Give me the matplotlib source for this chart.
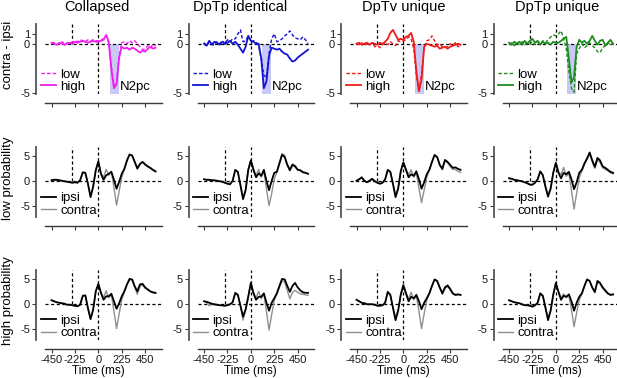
import numpy as np
import matplotlib
matplotlib.use('Agg')
import matplotlib.pyplot as plt
from matplotlib.lines import Line2D

plt.rcParams['font.family'] = ['Liberation Sans', 'DejaVu Sans']
plt.rcParams['axes.unicode_minus'] = False

# ---------------- data ----------------
time_ms = np.arange(-450, 551, 25)   # sampling grid, 41 points

titles = ['Collapsed', 'DpTp identical', 'DpTv unique', 'DpTp unique']
diff_colors = ['#f01ef0', '#1414d2', '#ee1c1c', '#1f8c1f']
row_labels = ['contra - ipsi', 'low probability', 'high probability']
x_ticks = [-450, -225, 0, 225, 450]
x_ticklabels = ['-450', '-225', '0', '225', '450']
diff_yticks = [-5, 0, 1]
erp_yticks = [-5, 0, 5]
n2pc_window = [110, 195]

# top row: contra - ipsi difference waves
collapsed_low = [0.0, 0.1, -0.1, 0.0, 0.2, 0.0, 0.1, 0.0, 0.2, 0.3, 0.2, 0.4, 0.3, 0.2, 0.4, 0.3, 0.4, 0.3, 0.3, 0.4, 0.5,
                 0.8, 0.1, -2.3, -4.2, -3.9, -1.2, 0.1, 0.2, 0.0, 0.3, 0.1, 0.3, 0.0, -0.3, -0.6, -0.5, -0.2, -0.4, -0.1, -0.2]
collapsed_high = [0.1, 0.0, -0.1, 0.1, 0.0, -0.1, 0.0, 0.1, 0.0, 0.2, 0.1, 0.2, 0.3, 0.2, 0.1, 0.2, 0.3, 0.2, 0.2, 0.3, 0.4,
                  0.9, 0.2, -2.6, -4.5, -4.1, -1.4, -0.3, -0.5, -0.4, -0.6, -0.4, -0.5, -0.7, -0.9, -0.7, -0.8, -0.5, -0.3, -0.5, -0.4]
dptp_ident_low = [0.1, -0.2, 0.2, 0.0, -0.2, 0.2, 0.0, 0.3, 0.0, 0.4, 0.2, 0.5, 0.5, 1.0, 1.4, 0.2, 0.3, 0.8, 0.2, 0.3, 0.2,
                  -0.2, -1.5, -3.2, -3.4, -1.0, 0.5, 1.0, 0.2, 0.3, 0.5, 0.8, 1.0, 1.3, 0.9, 0.6, 0.5, 0.4, 0.7, 0.4, 0.0]
dptp_ident_high = [0.0, -0.2, 0.3, -0.1, 0.2, 0.1, -0.1, 0.2, 0.0, 0.1, 0.3, 0.0, 0.2, -0.1, -0.5, -0.9, -0.3, 0.8, 0.3, 0.2, 0.0,
                   0.0, -1.5, -4.5, -3.8, -1.2, -0.4, -0.5, -0.6, -0.5, -0.8, -1.0, -1.1, -1.5, -1.8, -1.7, -1.4, -1.2, -1.0, -0.8, -0.6]
dptv_uniq_low = [0.0, -0.1, 0.1, -0.2, 0.0, -0.1, 0.1, -0.3, -0.2, -0.4, -0.1, 0.1, -0.1, 0.2, 0.0, -0.2, 0.3, 0.2, 0.3, 0.4, 0.7,
                 0.5, -0.5, -3.2, -4.9, -3.0, -0.5, 0.3, 0.4, 0.8, 0.3, -0.1, 0.0, -0.3, -0.4, -0.3, 0.0, -0.2, 0.1, -0.3, -0.2]
dptv_uniq_high = [0.0, 0.1, -0.1, 0.0, 0.1, -0.1, 0.1, 0.0, -0.1, 0.1, 0.0, 0.2, 0.5, 1.1, 1.4, 0.9, 0.4, 0.5, 0.4, 0.7, 0.8,
                  1.1, 0.2, -2.8, -4.8, -3.6, -0.3, 0.0, -0.1, -0.2, -0.3, -0.2, -0.5, -0.4, -0.3, -0.5, -0.3, -0.2, -0.1, 0.0, -0.1]
dptp_uniq_low = [-0.1, 0.1, -0.2, 0.1, -0.1, 0.2, -0.1, 0.1, 0.0, 0.2, -0.1, 0.2, 0.0, 0.3, 0.1, 0.4, 0.7, 0.9, 0.8, 1.0, 1.3,
                 0.5, -0.5, -2.8, -4.5, -4.9, -1.0, -0.5, 0.0, -0.4, -0.2, 0.1, -0.2, -0.4, -0.8, -0.9, -0.4, -0.2, 0.1, -0.1, 0.0]
dptp_uniq_high = [0.1, -0.1, 0.2, 0.0, 0.2, -0.1, 0.3, 0.0, 0.3, 0.5, 0.1, 0.3, -0.1, 0.2, 0.0, 0.1, -0.1, 0.2, 0.1, 0.1, 0.3,
                  0.5, 0.7, -1.5, -3.9, -3.4, -0.3, 0.4, 0.1, 0.3, 0.0, 0.3, 0.8, 0.3, -0.1, 0.3, 0.4, -0.2, 0.1, 0.4, 0.0]

# middle row: low probability, ipsi / contra
collapsed_lowp_ipsi = [0.2, 0.3, 0.3, 0.2, 0.1, 0.0, -0.1, -0.2, -0.3, -0.2, -0.3, 0.2, 1.8, 1.7, -0.5, -3.2, -1.1, 2.2, 4.0, 1.5, 0.3,
                       1.2, 1.5, 1.9, 0.3, -1.5, -0.1, 1.5, 2.5, 4.2, 5.4, 5.2, 3.9, 2.6, 3.5, 3.9, 3.4, 3.0, 2.7, 2.3, 2.0]
collapsed_lowp_contra = [0.2, 0.3, 0.2, 0.2, 0.1, 0.0, -0.1, -0.2, -0.3, -0.2, -0.3, 0.2, 1.7, 1.6, -0.5, -3.0, -1.0, 2.2, 4.0, 1.6, 0.8,
                         2.4, 1.2, 2.0, -1.3, -4.8, -2.0, 0.8, 2.4, 4.0, 5.3, 5.1, 3.8, 2.4, 3.4, 3.8, 3.3, 2.9, 2.6, 2.2, 1.9]
dptp_ident_lowp_ipsi = [0.4, 0.3, 0.3, 0.2, 0.2, 0.1, 0.0, -0.1, -0.3, -0.5, -0.6, 0.1, 2.3, 1.9, -0.8, -3.6, -1.8, 2.3, 4.2, 2.3, 0.8,
                        1.6, 1.1, 2.3, 0.1, -1.8, 0.1, 1.7, 1.9, 3.6, 5.3, 4.9, 3.3, 2.2, 3.3, 3.0, 2.3, 2.2, 1.8, 1.7, 1.5]
dptp_ident_lowp_contra = [0.4, 0.3, 0.2, 0.2, 0.1, 0.1, 0.0, -0.1, -0.3, -0.4, -0.5, 0.1, 2.2, 1.8, -0.7, -3.3, -1.6, 2.3, 4.3, 2.5, 1.2,
                          2.4, 0.8, 2.0, -1.5, -4.9, -2.5, 0.5, 1.8, 3.8, 5.6, 5.2, 3.5, 2.5, 3.5, 3.2, 2.4, 2.3, 1.9, 1.7, 1.5]
dptv_uniq_lowp_ipsi = [0.1, 0.4, 0.8, 0.1, -0.2, 0.1, 0.5, 0.0, -0.3, -0.5, -0.3, 0.4, 2.3, 1.9, -0.5, -3.2, -1.5, 2.0, 3.8, 2.3, 0.8,
                       1.4, 1.1, 2.0, 0.4, -1.5, -0.2, 1.4, 2.3, 3.9, 5.3, 4.9, 3.3, 2.5, 4.3, 3.9, 3.3, 2.7, 2.8, 2.5, 2.3]
dptv_uniq_lowp_contra = [0.1, 0.4, 0.7, 0.1, -0.2, 0.1, 0.4, 0.0, -0.3, -0.5, -0.3, 0.4, 2.2, 1.8, -0.4, -2.9, -1.3, 2.0, 3.8, 2.5, 1.3,
                         2.3, 0.8, 1.6, -1.4, -4.3, -1.8, 0.8, 2.3, 3.8, 5.2, 4.8, 3.2, 2.3, 4.1, 3.7, 3.0, 2.4, 2.4, 2.0, 1.8]
dptp_uniq_lowp_ipsi = [0.6, 0.5, 0.3, 0.2, 0.1, 0.0, -0.2, -0.4, -0.7, -0.7, -0.3, 0.4, 2.0, 1.2, -1.1, -3.1, -1.5, 1.7, 3.7, 1.7, 0.6,
                       1.7, 1.4, 1.9, 0.4, -1.6, -0.2, 1.7, 2.3, 3.6, 4.6, 5.8, 4.2, 2.9, 4.7, 4.2, 3.0, 2.7, 2.3, 1.9, 1.7]
dptp_uniq_lowp_contra = [0.6, 0.5, 0.3, 0.2, 0.1, 0.0, -0.2, -0.4, -0.6, -0.6, -0.3, 0.4, 1.9, 1.2, -1.0, -2.8, -1.3, 1.8, 3.8, 2.0, 1.3,
                         2.8, 1.0, 1.6, -1.8, -5.6, -2.4, 0.8, 2.0, 3.4, 4.4, 5.5, 3.9, 2.6, 4.3, 3.8, 2.7, 2.4, 2.1, 1.7, 1.5]

# bottom row: high probability, ipsi / contra
collapsed_highp_ipsi = [0.7, 0.5, 0.3, 0.2, 0.1, 0.0, -0.2, -0.2, -0.3, -0.4, -0.5, -0.2, 1.6, 1.7, -0.9, -3.1, -1.2, 2.5, 4.0, 2.2, 0.8,
                        1.5, 1.5, 2.0, 0.5, -1.0, 0.1, 1.5, 2.5, 3.9, 5.0, 4.9, 3.5, 2.5, 3.9, 4.0, 3.3, 2.9, 2.5, 2.3, 2.2]
collapsed_highp_contra = [0.7, 0.5, 0.3, 0.2, 0.1, 0.0, -0.2, -0.2, -0.3, -0.4, -0.5, -0.2, 1.5, 1.6, -0.9, -3.0, -1.1, 2.4, 4.0, 2.3, 1.2,
                          2.6, 1.2, 1.9, -1.5, -5.0, -2.0, 0.8, 2.4, 3.8, 4.9, 4.7, 3.3, 1.9, 3.5, 3.8, 3.1, 2.8, 2.4, 2.2, 2.1]
dptp_ident_highp_ipsi = [0.5, 0.4, 0.2, 0.0, -0.1, -0.2, -0.3, -0.3, -0.4, -0.3, -0.1, 0.3, 2.2, 1.8, -0.4, -2.6, -1.1, 1.4, 4.2, 2.1, 0.8,
                         1.4, 1.4, 2.1, 0.2, -1.4, 0.2, 1.1, 2.1, 3.6, 5.0, 4.9, 3.6, 2.4, 3.6, 4.2, 3.3, 2.7, 2.3, 2.2, 2.2]
dptp_ident_highp_contra = [0.5, 0.2, -0.4, -0.1, -0.2, -0.3, -0.3, -0.4, -0.4, -0.3, -0.1, 0.3, 2.1, 1.7, -0.4, -3.3, -1.3, 1.5, 4.3, 2.3, 1.2,
                           2.5, 1.0, 2.0, -1.5, -5.3, -2.2, 0.7, 2.0, 3.3, 4.6, 4.4, 2.7, 1.0, 2.3, 2.7, 2.3, 2.0, 1.9, 1.8, 1.7]
dptv_uniq_highp_ipsi = [0.8, 0.5, 0.2, 0.1, -0.1, -0.1, -0.1, -0.2, -0.4, -0.4, -0.3, 0.2, 2.4, 1.8, -0.8, -3.3, -1.4, 1.8, 3.7, 2.1, 0.5,
                        1.4, 1.1, 1.8, 0.5, -1.1, 0.2, 1.1, 2.1, 3.6, 4.9, 4.6, 3.3, 2.1, 3.3, 3.7, 3.0, 2.1, 1.8, 1.9, 1.8]
dptv_uniq_highp_contra = [0.8, 0.5, 0.2, 0.1, -0.1, -0.1, -0.1, -0.2, -0.4, -0.4, -0.3, 0.2, 2.3, 1.7, -0.7, -2.9, -1.2, 2.0, 4.0, 2.3, 1.0,
                          2.3, 0.8, 1.6, -1.5, -5.0, -2.0, 0.7, 2.0, 3.5, 4.8, 4.5, 3.1, 1.9, 3.1, 3.5, 2.8, 2.0, 1.7, 1.8, 1.7]
dptp_uniq_highp_ipsi = [0.7, 0.5, 0.3, 0.2, 0.1, -0.1, -0.3, -0.3, -0.4, -0.6, -0.3, 0.2, 2.1, 1.6, -0.8, -3.3, -1.4, 1.8, 4.2, 2.4, 0.8,
                        1.6, 1.4, 1.9, 0.5, -1.4, 0.2, 1.4, 2.1, 3.6, 4.9, 4.6, 3.3, 2.4, 4.6, 4.2, 3.3, 2.7, 2.1, 1.8, 1.9]
dptp_uniq_highp_contra = [0.7, 0.5, 0.3, 0.2, 0.1, -0.1, -0.3, -0.3, -0.4, -0.5, -0.3, 0.2, 2.0, 1.5, -0.7, -3.0, -1.2, 1.9, 4.1, 2.5, 1.2,
                          2.0, 1.2, 1.7, -1.2, -4.6, -1.8, 0.8, 1.9, 3.5, 4.8, 4.5, 3.2, 2.2, 4.4, 4.0, 3.1, 2.5, 2.0, 1.7, 1.8]

diff_low = [collapsed_low, dptp_ident_low, dptv_uniq_low, dptp_uniq_low]
diff_high = [collapsed_high, dptp_ident_high, dptv_uniq_high, dptp_uniq_high]
lowp_ipsi = [collapsed_lowp_ipsi, dptp_ident_lowp_ipsi, dptv_uniq_lowp_ipsi, dptp_uniq_lowp_ipsi]
lowp_contra = [collapsed_lowp_contra, dptp_ident_lowp_contra, dptv_uniq_lowp_contra, dptp_uniq_lowp_contra]
highp_ipsi = [collapsed_highp_ipsi, dptp_ident_highp_ipsi, dptv_uniq_highp_ipsi, dptp_uniq_highp_ipsi]
highp_contra = [collapsed_highp_contra, dptp_ident_highp_contra, dptv_uniq_highp_contra, dptp_uniq_highp_contra]

# ---------------- layout ----------------
W, H = 617, 378
fig = plt.figure(figsize=(W / 100, H / 100), dpi=100)

col_left = [45.3 + 152.5 * c for c in range(4)]
ax_w = 116.5
row_top = [24.0, 147.0, 269.5]
row_h = [69.6, 70.0, 70.0]
row_ylim = [(-5.05, 2.0), (-7.2, 6.9), (-7.2, 6.9)]
xlim = (-510, 610)

title_x = [97, 240, 404, 557]
ylabel_y = [55, 178, 301]

ref_ls = (0, (2.5, 2.0))
spine_col = '#3a3a3a'
LEG_FS = 9.5


def make_axes(r, c):
    ax = fig.add_axes([col_left[c] / W, 1 - (row_top[r] + row_h[r]) / H, ax_w / W, row_h[r] / H])
    ax.set_xlim(*xlim)
    ax.set_ylim(*row_ylim[r])
    for s in ['top', 'right']:
        ax.spines[s].set_visible(False)
    for s in ['left', 'bottom']:
        ax.spines[s].set_position(('outward', 6.5))
        ax.spines[s].set_color(spine_col)
        ax.spines[s].set_linewidth(1.0)
    ax.spines['left'].set_linewidth(1.3)
    ax.spines['left'].set_color('#555555')
    ax.set_xticks(x_ticks)
    ax.set_xticklabels(x_ticklabels)
    ax.set_yticks(diff_yticks if r == 0 else erp_yticks)
    ax.tick_params(direction='out', length=3, width=0.8, color=spine_col,
                   labelsize=8, pad=1.5, labelcolor='#1a1a1a')
    if r < 2:
        ax.tick_params(axis='x', labelbottom=False)
    ax.patch.set_alpha(0)
    # reference lines
    ax.axhline(0, color='k', lw=0.9, ls=ref_ls, zorder=1)
    ax.axvline(0, color='k', lw=0.9, ls=ref_ls, zorder=1)
    ax.vlines(-250, 0, row_ylim[r][1], color='k', lw=0.9, ls=ref_ls, zorder=1)
    return ax


for c in range(4):
    # top row: difference waves
    ax = make_axes(0, c)
    ax.fill_between(n2pc_window, row_ylim[0][0], 0, color='#c9c9f7', lw=0, zorder=0)
    col = diff_colors[c]
    ax.plot(time_ms, diff_low[c], color=col, lw=1.0, ls=(0, (2.5, 1.5)), zorder=3)
    ax.plot(time_ms, diff_high[c], color=col, lw=1.3, ls='-', zorder=4)
    ax.text(205, -4.4, 'N2pc', fontsize=LEG_FS, ha='left', va='center')
    handles = [Line2D([], [], color=col, lw=1.0, ls=(0, (2.5, 1.5))),
               Line2D([], [], color=col, lw=1.3, ls='-')]
    ax.legend(handles, ['low', 'high'], loc='center left', bbox_to_anchor=(-0.037, 0.185),
              frameon=False, fontsize=LEG_FS, handlelength=1.1, handletextpad=0.35,
              labelspacing=0.0, borderpad=0, borderaxespad=0)

    # middle and bottom rows: ipsi / contra ERPs
    for r, (ipsi, contra) in zip([1, 2], [(lowp_ipsi, lowp_contra), (highp_ipsi, highp_contra)]):
        ax = make_axes(r, c)
        ax.plot(time_ms, contra[c], color='#8f8f8f', lw=1.0, zorder=3)
        ax.plot(time_ms, ipsi[c], color='#000000', lw=1.3, zorder=4)
        handles = [Line2D([], [], color='#000000', lw=1.3),
                   Line2D([], [], color='#8f8f8f', lw=1.0)]
        ax.legend(handles, ['ipsi', 'contra'], loc='center left', bbox_to_anchor=(-0.037, 0.18),
                  frameon=False, fontsize=LEG_FS, handlelength=1.1, handletextpad=0.35,
                  labelspacing=0.0, borderpad=0, borderaxespad=0)
        if r == 2:
            ax.set_xlabel('Time (ms)', fontsize=8.5)
            ax.xaxis.set_label_coords(0.455, -0.37)

    fig.text(title_x[c] / W, 1 - 11.5 / H, titles[c], ha='center', va='baseline', fontsize=10.5)

for r in range(3):
    fig.text(8.5 / W, 1 - ylabel_y[r] / H, row_labels[r], rotation=90, ha='center', va='center', fontsize=9.5)

fig.savefig('out.png', dpi=100)
